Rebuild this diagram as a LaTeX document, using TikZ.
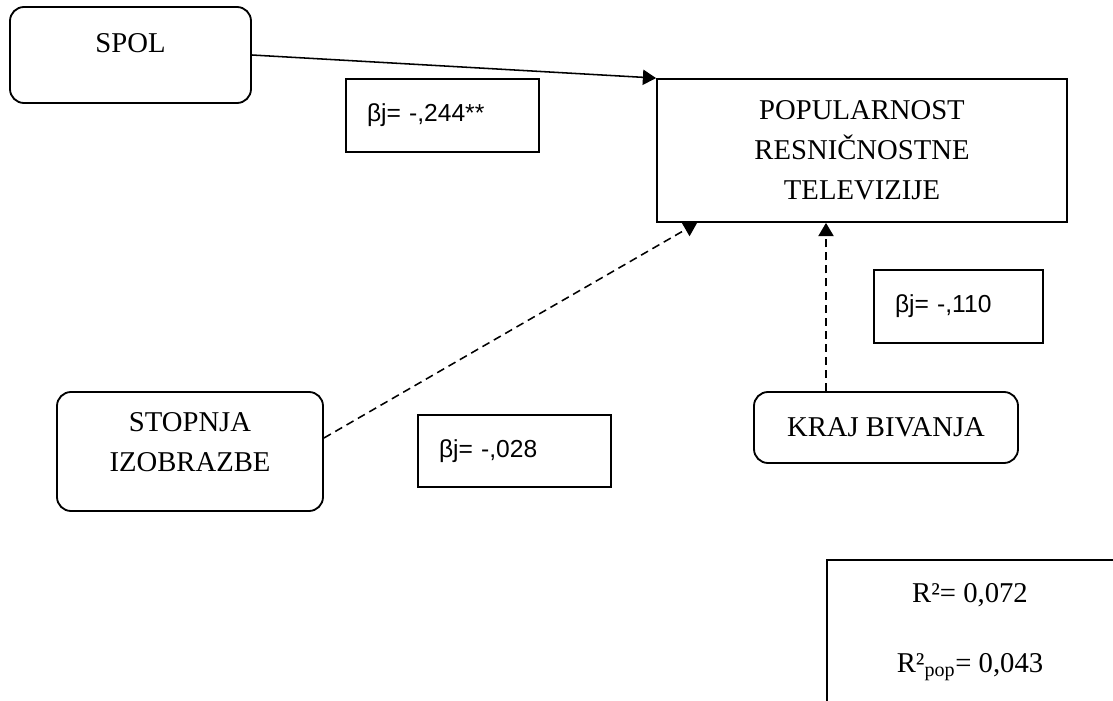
\documentclass[tikz,border=0pt]{standalone}
\usepackage{fontspec}
\setmainfont{Liberation Serif}
\newfontfamily\arialfont{Liberation Sans}
\usetikzlibrary{arrows.meta}

\begin{document}
\begin{tikzpicture}[
        roundbox/.style={draw, line width=1.3pt, rounded corners=0.35cm, inner sep=0pt},
        plainbox/.style={draw, line width=1.3pt, inner sep=0pt, align=center},
        betabox/.style={draw, line width=1.3pt, inner xsep=0.525cm, inner ysep=0pt, align=left,
            minimum height=1.825cm, font=\arialfont\fontsize{17.5}{21}\selectfont},
        link/.style={line width=1.1pt, -{Triangle[length=0.33cm, width=0.38cm]}},
        dashlink/.style={link, dash pattern=on 5.7pt off 3.6pt},
        font=\fontsize{20.4}{28.5}\selectfont
    ]
        \useasboundingbox (0,0) rectangle (27.825,-17.525);

        % Draw the variables
        \node[roundbox, minimum width=6.025cm, minimum height=2.4cm] (spol) at (3.2625,-1.375) {};
        \node (spoltxt) at (3.2625,-1.075) {SPOL};

        \node[roundbox, minimum width=6.65cm, minimum height=2.975cm] (stopnja) at (4.75,-11.2875) {};
        \node[align=center] (stopnjatxt) at (4.75,-11.0625) {STOPNJA\\IZOBRAZBE};

        \node[roundbox, minimum width=6.6cm, minimum height=1.775cm] (kraj) at (22.15,-10.6875) {KRAJ BIVANJA};

        \node[plainbox, minimum width=10.25cm, minimum height=3.575cm] (pop) at (21.55,-3.7625)
            {POPULARNOST\\RESNIČNOSTNE\\TELEVIZIJE};

        % Define coefficient boxes
        \node[betabox, text width=3.775cm] (b1) at (11.0625,-2.8875) {βj= -,244**};
        \node[betabox, text width=3.175cm] (b2) at (23.9625,-7.6625) {βj= -,110};
        \node[betabox, text width=3.775cm, minimum height=1.8cm] (b3) at (12.8625,-11.275) {βj= -,028};

        % Draw the fit box
        \begin{scope}
            \clip (0,0) rectangle (27.825,-17.525);
            \node[plainbox, minimum width=7.2cm, minimum height=4.4cm, anchor=north west] (fit) at (20.65,-13.975) {};
        \end{scope}
        \node[anchor=base] (r2) at (24.25,-15.05) {R²= 0,072};
        \node[anchor=base] (r2pop) at (24.25,-16.8) {R²\textsubscript{pop}= 0,043};

        % Draw paths
        \draw[link] (spol.east) -- (pop.north west);
        \draw[dashlink] ([yshift=0.3375cm]stopnja.east) -- ([xshift=1.025cm]pop.south west);
        \draw[dashlink] ([xshift=-1.5cm]kraj.north) -- ([xshift=-1.5cm]kraj.north |- pop.south);
    \end{tikzpicture}
\end{document}
